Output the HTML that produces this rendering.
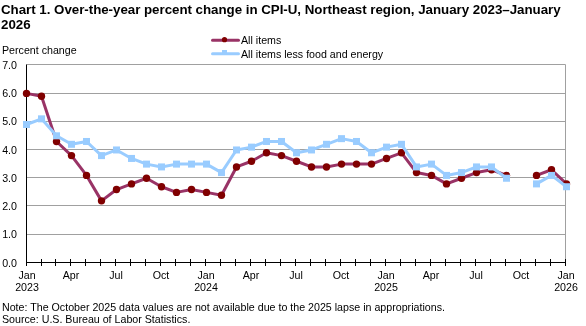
<!DOCTYPE html>
<html><head><meta charset="utf-8"><style>
html,body{margin:0;padding:0;background:#fff;}
body{width:586px;height:326px;position:relative;overflow:hidden;font-family:"Liberation Sans",sans-serif;color:#000;}
.t{will-change:transform;position:absolute;white-space:nowrap;font-size:10.67px;line-height:13px;}
.title{will-change:transform;position:absolute;left:1px;white-space:nowrap;font-weight:bold;font-size:13.33px;line-height:15px;}
.yl{left:0;width:17px;text-align:right;}
.xl{width:60px;text-align:center;}
svg{position:absolute;left:0;top:0;}
</style></head><body>
<div class="title" style="top:2px;letter-spacing:-0.03px">Chart 1. Over-the-year percent change in CPI-U, Northeast region, January 2023–January</div>
<div class="title" style="top:17px">2026</div>
<div class="t" style="left:2px;top:44px">Percent change</div>
<div class="t" style="left:241px;top:34px">All items</div>
<div class="t" style="left:241px;top:48px">All items less food and energy</div>
<svg width="586" height="326" viewBox="0 0 586 326">
<line x1="26.5" y1="234.50" x2="565.5" y2="234.50" stroke="#a0a0a0" stroke-width="1"/>
<line x1="26.5" y1="205.50" x2="565.5" y2="205.50" stroke="#a0a0a0" stroke-width="1"/>
<line x1="26.5" y1="177.50" x2="565.5" y2="177.50" stroke="#a0a0a0" stroke-width="1"/>
<line x1="26.5" y1="149.50" x2="565.5" y2="149.50" stroke="#a0a0a0" stroke-width="1"/>
<line x1="26.5" y1="121.50" x2="565.5" y2="121.50" stroke="#a0a0a0" stroke-width="1"/>
<line x1="26.5" y1="93.50" x2="565.5" y2="93.50" stroke="#a0a0a0" stroke-width="1"/>
<line x1="26.5" y1="64.50" x2="565.5" y2="64.50" stroke="#a0a0a0" stroke-width="1"/>
<line x1="565.5" y1="64.5" x2="565.5" y2="262.5" stroke="#a0a0a0" stroke-width="1"/>
<line x1="26.5" y1="64.5" x2="26.5" y2="266.0" stroke="#000" stroke-width="1"/>
<line x1="26.5" y1="262.5" x2="565.5" y2="262.5" stroke="#000" stroke-width="1"/>
<line x1="26.50" y1="259.0" x2="26.50" y2="266.0" stroke="#000" stroke-width="1"/>
<line x1="41.50" y1="259.0" x2="41.50" y2="266.0" stroke="#000" stroke-width="1"/>
<line x1="55.50" y1="259.0" x2="55.50" y2="266.0" stroke="#000" stroke-width="1"/>
<line x1="70.50" y1="259.0" x2="70.50" y2="266.0" stroke="#000" stroke-width="1"/>
<line x1="85.50" y1="259.0" x2="85.50" y2="266.0" stroke="#000" stroke-width="1"/>
<line x1="100.50" y1="259.0" x2="100.50" y2="266.0" stroke="#000" stroke-width="1"/>
<line x1="115.50" y1="259.0" x2="115.50" y2="266.0" stroke="#000" stroke-width="1"/>
<line x1="130.50" y1="259.0" x2="130.50" y2="266.0" stroke="#000" stroke-width="1"/>
<line x1="145.50" y1="259.0" x2="145.50" y2="266.0" stroke="#000" stroke-width="1"/>
<line x1="160.50" y1="259.0" x2="160.50" y2="266.0" stroke="#000" stroke-width="1"/>
<line x1="175.50" y1="259.0" x2="175.50" y2="266.0" stroke="#000" stroke-width="1"/>
<line x1="190.50" y1="259.0" x2="190.50" y2="266.0" stroke="#000" stroke-width="1"/>
<line x1="205.50" y1="259.0" x2="205.50" y2="266.0" stroke="#000" stroke-width="1"/>
<line x1="220.50" y1="259.0" x2="220.50" y2="266.0" stroke="#000" stroke-width="1"/>
<line x1="235.50" y1="259.0" x2="235.50" y2="266.0" stroke="#000" stroke-width="1"/>
<line x1="250.50" y1="259.0" x2="250.50" y2="266.0" stroke="#000" stroke-width="1"/>
<line x1="265.50" y1="259.0" x2="265.50" y2="266.0" stroke="#000" stroke-width="1"/>
<line x1="280.50" y1="259.0" x2="280.50" y2="266.0" stroke="#000" stroke-width="1"/>
<line x1="295.50" y1="259.0" x2="295.50" y2="266.0" stroke="#000" stroke-width="1"/>
<line x1="310.50" y1="259.0" x2="310.50" y2="266.0" stroke="#000" stroke-width="1"/>
<line x1="325.50" y1="259.0" x2="325.50" y2="266.0" stroke="#000" stroke-width="1"/>
<line x1="340.50" y1="259.0" x2="340.50" y2="266.0" stroke="#000" stroke-width="1"/>
<line x1="355.50" y1="259.0" x2="355.50" y2="266.0" stroke="#000" stroke-width="1"/>
<line x1="370.50" y1="259.0" x2="370.50" y2="266.0" stroke="#000" stroke-width="1"/>
<line x1="385.50" y1="259.0" x2="385.50" y2="266.0" stroke="#000" stroke-width="1"/>
<line x1="400.50" y1="259.0" x2="400.50" y2="266.0" stroke="#000" stroke-width="1"/>
<line x1="415.50" y1="259.0" x2="415.50" y2="266.0" stroke="#000" stroke-width="1"/>
<line x1="430.50" y1="259.0" x2="430.50" y2="266.0" stroke="#000" stroke-width="1"/>
<line x1="445.50" y1="259.0" x2="445.50" y2="266.0" stroke="#000" stroke-width="1"/>
<line x1="460.50" y1="259.0" x2="460.50" y2="266.0" stroke="#000" stroke-width="1"/>
<line x1="475.50" y1="259.0" x2="475.50" y2="266.0" stroke="#000" stroke-width="1"/>
<line x1="490.50" y1="259.0" x2="490.50" y2="266.0" stroke="#000" stroke-width="1"/>
<line x1="505.50" y1="259.0" x2="505.50" y2="266.0" stroke="#000" stroke-width="1"/>
<line x1="520.50" y1="259.0" x2="520.50" y2="266.0" stroke="#000" stroke-width="1"/>
<line x1="535.50" y1="259.0" x2="535.50" y2="266.0" stroke="#000" stroke-width="1"/>
<line x1="550.50" y1="259.0" x2="550.50" y2="266.0" stroke="#000" stroke-width="1"/>
<line x1="565.50" y1="259.0" x2="565.50" y2="266.0" stroke="#000" stroke-width="1"/>
<polyline points="26.50,93.39 41.50,96.21 56.50,141.47 71.50,155.61 86.50,175.41 101.50,200.87 116.50,189.56 131.50,183.90 146.50,178.24 161.50,186.73 176.50,192.39 191.50,189.56 206.50,192.39 221.50,195.21 236.50,166.93 251.50,161.27 266.50,152.79 281.50,155.61 296.50,161.27 311.50,166.93 326.50,166.93 341.50,164.10 356.50,164.10 371.50,164.10 386.50,158.44 401.50,152.79 416.50,172.59 431.50,175.41 446.50,183.90 461.50,178.24 476.50,172.59 491.50,169.76 506.50,175.41" fill="none" stroke="#993366" stroke-width="3" stroke-linejoin="round" stroke-linecap="round"/>
<polyline points="536.50,175.41 551.50,169.76 566.50,183.90" fill="none" stroke="#993366" stroke-width="3" stroke-linejoin="round" stroke-linecap="round"/>
<circle cx="26.50" cy="93.39" r="3.7" fill="#800000"/>
<circle cx="41.50" cy="96.21" r="3.7" fill="#800000"/>
<circle cx="56.50" cy="141.47" r="3.7" fill="#800000"/>
<circle cx="71.50" cy="155.61" r="3.7" fill="#800000"/>
<circle cx="86.50" cy="175.41" r="3.7" fill="#800000"/>
<circle cx="101.50" cy="200.87" r="3.7" fill="#800000"/>
<circle cx="116.50" cy="189.56" r="3.7" fill="#800000"/>
<circle cx="131.50" cy="183.90" r="3.7" fill="#800000"/>
<circle cx="146.50" cy="178.24" r="3.7" fill="#800000"/>
<circle cx="161.50" cy="186.73" r="3.7" fill="#800000"/>
<circle cx="176.50" cy="192.39" r="3.7" fill="#800000"/>
<circle cx="191.50" cy="189.56" r="3.7" fill="#800000"/>
<circle cx="206.50" cy="192.39" r="3.7" fill="#800000"/>
<circle cx="221.50" cy="195.21" r="3.7" fill="#800000"/>
<circle cx="236.50" cy="166.93" r="3.7" fill="#800000"/>
<circle cx="251.50" cy="161.27" r="3.7" fill="#800000"/>
<circle cx="266.50" cy="152.79" r="3.7" fill="#800000"/>
<circle cx="281.50" cy="155.61" r="3.7" fill="#800000"/>
<circle cx="296.50" cy="161.27" r="3.7" fill="#800000"/>
<circle cx="311.50" cy="166.93" r="3.7" fill="#800000"/>
<circle cx="326.50" cy="166.93" r="3.7" fill="#800000"/>
<circle cx="341.50" cy="164.10" r="3.7" fill="#800000"/>
<circle cx="356.50" cy="164.10" r="3.7" fill="#800000"/>
<circle cx="371.50" cy="164.10" r="3.7" fill="#800000"/>
<circle cx="386.50" cy="158.44" r="3.7" fill="#800000"/>
<circle cx="401.50" cy="152.79" r="3.7" fill="#800000"/>
<circle cx="416.50" cy="172.59" r="3.7" fill="#800000"/>
<circle cx="431.50" cy="175.41" r="3.7" fill="#800000"/>
<circle cx="446.50" cy="183.90" r="3.7" fill="#800000"/>
<circle cx="461.50" cy="178.24" r="3.7" fill="#800000"/>
<circle cx="476.50" cy="172.59" r="3.7" fill="#800000"/>
<circle cx="491.50" cy="169.76" r="3.7" fill="#800000"/>
<circle cx="506.50" cy="175.41" r="3.7" fill="#800000"/>
<circle cx="536.50" cy="175.41" r="3.7" fill="#800000"/>
<circle cx="551.50" cy="169.76" r="3.7" fill="#800000"/>
<circle cx="566.50" cy="183.90" r="3.7" fill="#800000"/>
<polyline points="26.50,124.50 41.50,118.84 56.50,135.81 71.50,144.30 86.50,141.47 101.50,155.61 116.50,149.96 131.50,158.44 146.50,164.10 161.50,166.93 176.50,164.10 191.50,164.10 206.50,164.10 221.50,172.59 236.50,149.96 251.50,147.13 266.50,141.47 281.50,141.47 296.50,152.79 311.50,149.96 326.50,144.30 341.50,138.64 356.50,141.47 371.50,152.79 386.50,147.13 401.50,144.30 416.50,166.93 431.50,164.10 446.50,175.41 461.50,172.59 476.50,166.93 491.50,166.93 506.50,178.24" fill="none" stroke="#99ccff" stroke-width="3" stroke-linejoin="round" stroke-linecap="round"/>
<polyline points="536.50,183.90 551.50,175.41 566.50,186.73" fill="none" stroke="#99ccff" stroke-width="3" stroke-linejoin="round" stroke-linecap="round"/>
<rect x="23.00" y="121.00" width="7" height="7" fill="#99ccff"/>
<rect x="38.00" y="115.34" width="7" height="7" fill="#99ccff"/>
<rect x="53.00" y="132.31" width="7" height="7" fill="#99ccff"/>
<rect x="68.00" y="140.80" width="7" height="7" fill="#99ccff"/>
<rect x="83.00" y="137.97" width="7" height="7" fill="#99ccff"/>
<rect x="98.00" y="152.11" width="7" height="7" fill="#99ccff"/>
<rect x="113.00" y="146.46" width="7" height="7" fill="#99ccff"/>
<rect x="128.00" y="154.94" width="7" height="7" fill="#99ccff"/>
<rect x="143.00" y="160.60" width="7" height="7" fill="#99ccff"/>
<rect x="158.00" y="163.43" width="7" height="7" fill="#99ccff"/>
<rect x="173.00" y="160.60" width="7" height="7" fill="#99ccff"/>
<rect x="188.00" y="160.60" width="7" height="7" fill="#99ccff"/>
<rect x="203.00" y="160.60" width="7" height="7" fill="#99ccff"/>
<rect x="218.00" y="169.09" width="7" height="7" fill="#99ccff"/>
<rect x="233.00" y="146.46" width="7" height="7" fill="#99ccff"/>
<rect x="248.00" y="143.63" width="7" height="7" fill="#99ccff"/>
<rect x="263.00" y="137.97" width="7" height="7" fill="#99ccff"/>
<rect x="278.00" y="137.97" width="7" height="7" fill="#99ccff"/>
<rect x="293.00" y="149.29" width="7" height="7" fill="#99ccff"/>
<rect x="308.00" y="146.46" width="7" height="7" fill="#99ccff"/>
<rect x="323.00" y="140.80" width="7" height="7" fill="#99ccff"/>
<rect x="338.00" y="135.14" width="7" height="7" fill="#99ccff"/>
<rect x="353.00" y="137.97" width="7" height="7" fill="#99ccff"/>
<rect x="368.00" y="149.29" width="7" height="7" fill="#99ccff"/>
<rect x="383.00" y="143.63" width="7" height="7" fill="#99ccff"/>
<rect x="398.00" y="140.80" width="7" height="7" fill="#99ccff"/>
<rect x="413.00" y="163.43" width="7" height="7" fill="#99ccff"/>
<rect x="428.00" y="160.60" width="7" height="7" fill="#99ccff"/>
<rect x="443.00" y="171.91" width="7" height="7" fill="#99ccff"/>
<rect x="458.00" y="169.09" width="7" height="7" fill="#99ccff"/>
<rect x="473.00" y="163.43" width="7" height="7" fill="#99ccff"/>
<rect x="488.00" y="163.43" width="7" height="7" fill="#99ccff"/>
<rect x="503.00" y="174.74" width="7" height="7" fill="#99ccff"/>
<rect x="533.00" y="180.40" width="7" height="7" fill="#99ccff"/>
<rect x="548.00" y="171.91" width="7" height="7" fill="#99ccff"/>
<rect x="563.00" y="183.23" width="7" height="7" fill="#99ccff"/>
<rect x="222" y="50" width="5" height="5" fill="#99ccff"/>
<line x1="212.5" y1="53.7" x2="238.5" y2="53.7" stroke="#99ccff" stroke-width="3" stroke-linecap="round"/>
<line x1="212.5" y1="40.2" x2="238.5" y2="40.2" stroke="#993366" stroke-width="3" stroke-linecap="round"/>
<circle cx="224.5" cy="39.7" r="2.6" fill="#800000"/>
</svg>
<div class="t yl" style="top:256.70px">0.0</div>
<div class="t yl" style="top:228.41px">1.0</div>
<div class="t yl" style="top:200.13px">2.0</div>
<div class="t yl" style="top:171.84px">3.0</div>
<div class="t yl" style="top:143.56px">4.0</div>
<div class="t yl" style="top:115.27px">5.0</div>
<div class="t yl" style="top:86.99px">6.0</div>
<div class="t yl" style="top:58.70px">7.0</div>
<div class="t xl" style="left:-3.5px;top:269px">Jan</div>
<div class="t xl" style="left:40.5px;top:269px">Apr</div>
<div class="t xl" style="left:85.5px;top:269px">Jul</div>
<div class="t xl" style="left:130.5px;top:269px">Oct</div>
<div class="t xl" style="left:175.5px;top:269px">Jan</div>
<div class="t xl" style="left:220.5px;top:269px">Apr</div>
<div class="t xl" style="left:265.5px;top:269px">Jul</div>
<div class="t xl" style="left:310.5px;top:269px">Oct</div>
<div class="t xl" style="left:355.5px;top:269px">Jan</div>
<div class="t xl" style="left:400.5px;top:269px">Apr</div>
<div class="t xl" style="left:445.5px;top:269px">Jul</div>
<div class="t xl" style="left:490.5px;top:269px">Oct</div>
<div class="t xl" style="left:535.5px;top:269px">Jan</div>
<div class="t xl" style="left:-3.5px;top:281px">2023</div>
<div class="t xl" style="left:175.5px;top:281px">2024</div>
<div class="t xl" style="left:355.5px;top:281px">2025</div>
<div class="t xl" style="left:535.5px;top:281px">2026</div>
<div class="t" style="left:2px;top:301px">Note: The October 2025 data values are not available due to the 2025 lapse in appropriations.</div>
<div class="t" style="left:2px;top:313px">Source: U.S. Bureau of Labor Statistics.</div>
</body></html>
